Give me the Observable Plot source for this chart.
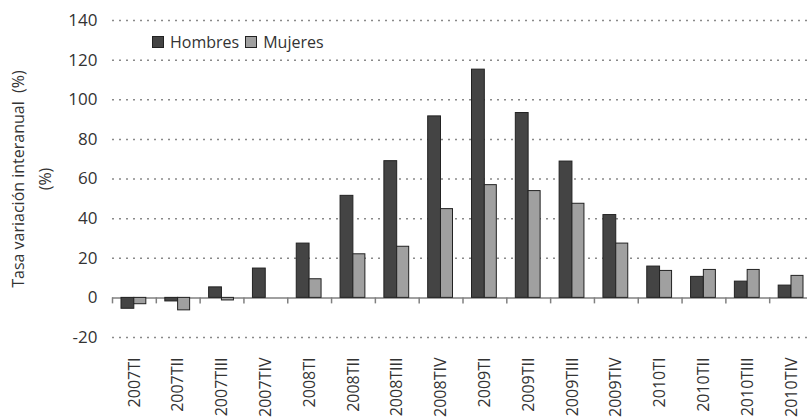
<!DOCTYPE html>
<html>
<head>
<meta charset="utf-8">
<script src="https://cdn.jsdelivr.net/npm/d3@7"></script>
<script src="https://cdn.jsdelivr.net/npm/@observablehq/plot@0.6"></script>
<style>
  html, body { margin: 0; padding: 0; background: #fff; }
  #wrap { position: relative; width: 807px; height: 417px; overflow: hidden; font-family: "Open Sans", sans-serif; }
  #chart svg { max-width: none !important; }
  #legend { position: absolute; left: 152px; top: 31px; display: flex; align-items: center; font-size: 16px; color: #333; white-space: nowrap; }
  #legend .sw { display: inline-block; width: 12px; height: 12px; border: 1px solid #222; box-sizing: border-box; margin-right: 6px; }
  #legend .item { display: flex; align-items: center; margin-right: 6px; }
</style>
</head>
<body>
<div id="wrap"><div id="chart"></div><div id="legend"></div></div>
<script>
const categories = ["2007TI","2007TII","2007TIII","2007TIV","2008TI","2008TII","2008TIII","2008TIV","2009TI","2009TII","2009TIII","2009TIV","2010TI","2010TII","2010TIII","2010TIV"];
const hombres = [-5.5, -1.8, 5.3, 14.8, 27.4, 51.5, 69.0, 91.6, 115.2, 93.3, 68.8, 41.8, 15.8, 10.6, 8.2, 6.2];
const mujeres = [-3.2, -6.3, -1.3, 0, 9.4, 22.0, 25.8, 44.8, 56.9, 53.9, 47.5, 27.4, 13.6, 14.1, 14.1, 11.1];
const series = ["Hombres", "Mujeres"];
const colors = ["#444444", "#a0a0a0"];
const yTicks = [-20, 0, 20, 40, 60, 80, 100, 120, 140];
const gridValues = yTicks.filter(d => d !== 0);
const yLabel = "Tasa variación interanual  (%)\n(%)";

const W = 813, ML = 112, MR = 0;
const bw = (W - ML - MR) / categories.length;

const hData = categories.map((c, i) => ({cat: c, v: hombres[i]}));
const mData = categories.map((c, i) => ({cat: c, v: mujeres[i]}));

const chart = Plot.plot({
  width: W, height: 417,
  marginLeft: ML, marginRight: MR, marginTop: 20, marginBottom: 80,
  style: {fontFamily: "Open Sans", background: "white", color: "#333", overflow: "visible"},
  x: {domain: categories, padding: 0, round: false, axis: null},
  y: {domain: [-20, 140], axis: null},
  marks: [
    Plot.ruleY(gridValues, {stroke: "#8a8a8a", strokeWidth: 1.5, strokeDasharray: "2,5"}),
    Plot.ruleY([0], {stroke: "#808080", strokeWidth: 1.5}),
    Plot.ruleX(categories, {x: d => d, y1: 0, y2: 0, dx: -bw / 2, insetBottom: -6, stroke: "#808080", strokeWidth: 1.5}),
    Plot.barY(hData, {x: "cat", y: "v", fill: colors[0], stroke: "#222", strokeWidth: 1, insetLeft: 9, insetRight: 22}),
    Plot.barY(mData, {x: "cat", y: "v", fill: colors[1], stroke: "#222", strokeWidth: 1, insetLeft: 21.8, insetRight: 10}),
    Plot.axisY({ticks: yTicks, tickSize: 0, tickPadding: 15, fontSize: 17, tickFormat: d => String(d), label: null, fill: "#333"}),
    Plot.axisX({tickRotate: -90, tickSize: 0, tickPadding: 20, fontSize: 16, label: null, fill: "#333"}),
    Plot.text([yLabel], {frameAnchor: "left", textAnchor: "middle", rotate: -90, dx: -84, fontSize: 16, text: d => d, fill: "#333", lineHeight: 1.7})
  ]
});
document.getElementById("chart").appendChild(chart);

const legend = document.getElementById("legend");
series.forEach((s, i) => {
  const item = document.createElement("span");
  item.className = "item";
  const sw = document.createElement("span");
  sw.className = "sw";
  sw.style.background = colors[i];
  item.appendChild(sw);
  item.appendChild(document.createTextNode(s));
  legend.appendChild(item);
});
</script>
</body>
</html>
